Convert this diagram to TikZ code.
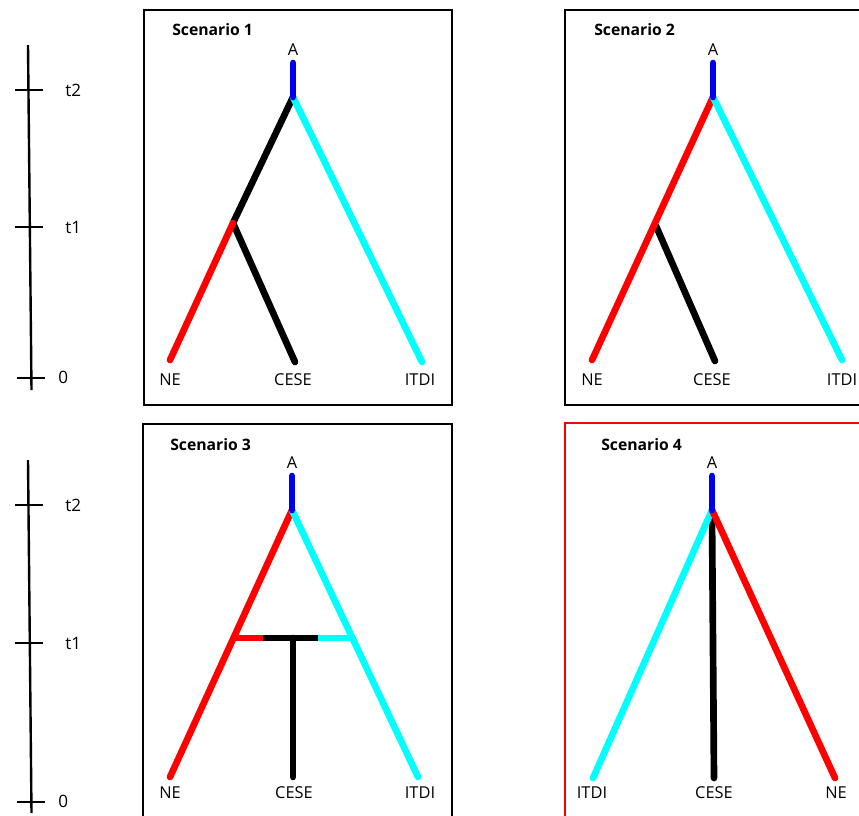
\documentclass[tikz,border=0pt]{standalone}
\usepackage{fontspec}
\setmainfont{Open Sans}
\definecolor{cy}{RGB}{0,255,255}
\definecolor{rd}{RGB}{255,0,0}
\definecolor{bl}{RGB}{0,0,240}
\begin{document}
\begin{tikzpicture}[x=0.75pt,y=-0.75pt,
  br/.style={line width=5pt,line cap=round},
  panel/.style={line width=2.2pt},
  axis/.style={line width=1.8pt},
  lab/.style={inner sep=0pt,font=\fontsize{12.3}{14}\selectfont},
  ttl/.style={inner sep=0pt,font=\bfseries\fontsize{11.8}{14}\selectfont,anchor=west},
  tk/.style={inner sep=0pt,font=\fontsize{12.8}{14}\selectfont,anchor=west}]
\useasboundingbox (0,0) rectangle (859,815);
\clip (0,0) rectangle (859,815);
\fill[white] (0,0) rectangle (859,815);

% ---------- time axes ----------
\foreach \o/\ya/\yb/\ta/\tb/\tz/\s in {0/45/390/90/227/378/a, 1/460/813/505/643/802/b}{
  \coordinate (top\s) at (28,\ya);
  \coordinate (bot\s) at (31.5,\yb);
  \draw[axis] (top\s) -- (bot\s);
  \coordinate (t2l\s) at (15,\ta); \coordinate (t2r\s) at (43,\ta);
  \coordinate (t1l\s) at (15,\tb); \coordinate (t1r\s) at (43,\tb);
  \coordinate (t0l\s) at (17,\tz); \coordinate (t0r\s) at (45,\tz);
  \draw[axis] (t2l\s) -- (t2r\s);
  \draw[axis] (t1l\s) -- (t1r\s);
  \draw[axis] (t0l\s) -- (t0r\s);
  \node[tk] (lt2\s) at (65,\ta) {t2};
  \node[tk] (lt1\s) at (65,\tb) {t1};
  \node[tk] (lt0\s) at (58,\tz-1) {0};
}

% ---------- panel frames ----------
\draw[panel] (144,10) rectangle (452,405);
\draw[panel] (565,10) rectangle (875,405);
\draw[panel] (143,424) rectangle (452,830);
\draw[panel,draw=rd] (565,423) rectangle (875,830);

% ---------- Scenario 1 ----------
\node[ttl] (s1) at (172,30) {Scenario 1};
\node[lab] (A1) at (293,50) {A};
\coordinate (a1) at (293,63);
\coordinate (r1) at (293,97);
\coordinate (j1) at (233,223);
\coordinate (ne1) at (170,360);
\coordinate (ce1) at (295,362);
\coordinate (it1) at (422,362);
\draw[br,black] (r1) -- (j1);
\draw[br,black] (j1) -- (ce1);
\draw[br,rd] (j1) -- (ne1);
\draw[br,cy] (r1) -- (it1);
\draw[br,bl] (a1) -- (r1);
\node[lab] (NE1) at (170,380) {NE};
\node[lab] (CE1) at (293,380) {CESE};
\node[lab] (IT1) at (420,380) {ITDI};

% ---------- Scenario 2 ----------
\node[ttl] (s2) at (594,30) {Scenario 2};
\node[lab] (A2) at (713,50) {A};
\coordinate (a2) at (713,63);
\coordinate (r2) at (713,97);
\coordinate (j2) at (656,226);
\coordinate (ne2) at (592,360);
\coordinate (ce2) at (715,361);
\coordinate (it2) at (842,360);
\draw[br,black] (j2) -- (ce2);
\draw[br,rd] (r2) -- (ne2);
\draw[br,cy] (r2) -- (it2);
\draw[br,bl] (a2) -- (r2);
\node[lab] (NE2) at (592,380) {NE};
\node[lab] (CE2) at (712,380) {CESE};
\node[lab] (IT2) at (842,380) {ITDI};

% ---------- Scenario 3 ----------
\node[ttl] (s3) at (170,445) {Scenario 3};
\node[lab] (A3) at (292,463) {A};
\coordinate (a3) at (292,476);
\coordinate (r3) at (292,510);
\coordinate (ne3) at (170,777);
\coordinate (ce3) at (293,777);
\coordinate (it3) at (418,777);
\coordinate (hl3) at (234,638);
\coordinate (hr3) at (351,638);
\coordinate (hm3) at (293,638);
\coordinate (ha3) at (263,638);
\coordinate (hb3) at (318,638);
\draw[br,rd] (r3) -- (ne3);
\draw[br,cy] (r3) -- (it3);
\draw[br,rd,line cap=butt] (hl3) -- (ha3);
\draw[br,cy,line cap=butt] (hb3) -- (hr3);
\draw[br,black,line cap=butt] (ha3) -- (hb3);
\draw[br,black] (hm3) -- (ce3);
\draw[br,bl] (a3) -- (r3);
\node[lab] (NE3) at (170,793) {NE};
\node[lab] (CE3) at (294,793) {CESE};
\node[lab] (IT3) at (420,793) {ITDI};

% ---------- Scenario 4 ----------
\node[ttl] (s4) at (601,445) {Scenario 4};
\node[lab] (A4) at (712,463) {A};
\coordinate (a4) at (712,476);
\coordinate (r4) at (712,510);
\coordinate (rb4) at (712,515);
\coordinate (it4) at (593,778);
\coordinate (ce4) at (714,778);
\coordinate (ne4) at (835,778);
\draw[br,black] (rb4) -- (ce4);
\draw[br,cy] (r4) -- (it4);
\draw[br,rd] (r4) -- (ne4);
\draw[br,bl] (a4) -- (r4);
\node[lab] (IT4) at (592,793) {ITDI};
\node[lab] (CE4) at (714,793) {CESE};
\node[lab] (NE4) at (836,793) {NE};
\end{tikzpicture}
\end{document}
